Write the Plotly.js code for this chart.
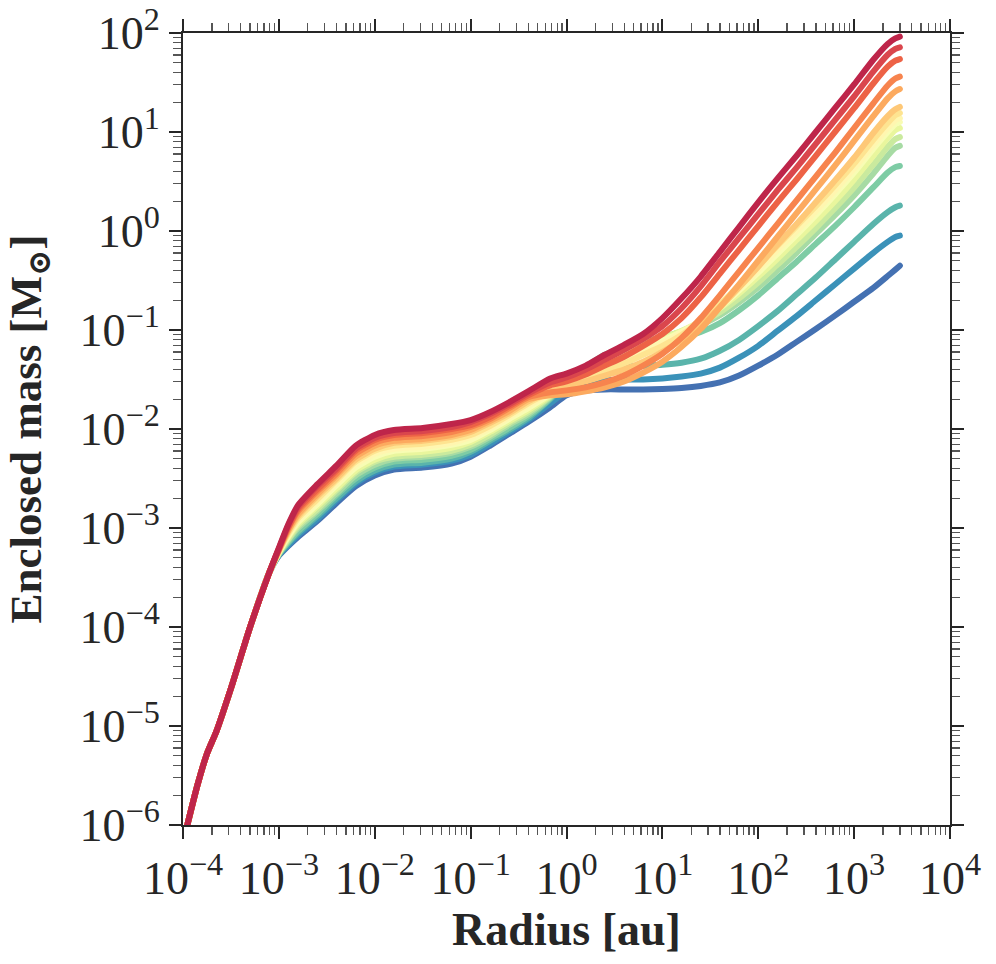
<!DOCTYPE html>
<html><head><meta charset="utf-8">
<script src="https://cdn.plot.ly/plotly-3.0.1.min.js"></script>
<style>
html,body{margin:0;padding:0;background:#fff;}
#chart{width:996px;height:964px;}
.js-line{stroke-linecap:round;stroke-linejoin:round;}
</style></head><body><div id="chart"></div>
<script>
// log10(radius / au): shared core part, then the grid of the 16 profiles
const logRadiusCore = [-3.96, -3.85, -3.75, -3.65, -3.5, -3.3, -3.1];
const logMassCore   = [-6.02, -5.60, -5.28, -5.05, -4.62, -4.00, -3.45];
const logRadius = [-3.0,-2.9,-2.8,-2.6,-2.4,-2.2,-2.0,-1.8,-1.5,-1.2,-1.0,-0.8,-0.6,-0.4,
  -0.17,0.0,0.2,0.4,0.6,0.8,1.0,1.2,1.4,1.6,1.8,2.0,2.2,2.4,2.6,2.8,3.0,3.2,3.35,3.43,3.477];
// log10(enclosed mass / Msun), profile 1 = highest (dark red) ... 16 = lowest (blue)
const logMass01 = [-3.20,-2.96,-2.77,-2.56,-2.37,-2.17,-2.06,-2.01,-1.99,-1.95,-1.91,-1.83,-1.73,-1.62,-1.49,-1.44,-1.36,-1.25,-1.15,-1.04,-0.88,-0.68,-0.46,-0.21,0.04,0.29,0.53,0.76,1.00,1.24,1.48,1.73,1.89,1.945,1.963];
const logMass02 = [-3.21,-2.97,-2.79,-2.58,-2.40,-2.20,-2.09,-2.04,-2.02,-1.98,-1.93,-1.85,-1.75,-1.64,-1.53,-1.48,-1.40,-1.30,-1.20,-1.09,-0.96,-0.78,-0.56,-0.31,-0.07,0.17,0.41,0.64,0.88,1.12,1.36,1.61,1.78,1.84,1.855];
const logMass03 = [-3.21,-2.99,-2.81,-2.61,-2.42,-2.22,-2.11,-2.06,-2.04,-2.00,-1.96,-1.88,-1.77,-1.66,-1.56,-1.52,-1.45,-1.36,-1.27,-1.16,-1.04,-0.88,-0.67,-0.43,-0.19,0.05,0.29,0.52,0.76,1.00,1.24,1.49,1.66,1.72,1.737];
const logMass04 = [-3.22,-3.00,-2.83,-2.63,-2.45,-2.25,-2.14,-2.09,-2.07,-2.03,-1.98,-1.90,-1.79,-1.68,-1.63,-1.61,-1.58,-1.53,-1.46,-1.36,-1.24,-1.08,-0.88,-0.65,-0.41,-0.17,0.07,0.31,0.55,0.79,1.04,1.29,1.47,1.54,1.559];
const logMass05 = [-3.22,-3.02,-2.86,-2.66,-2.47,-2.28,-2.17,-2.12,-2.10,-2.06,-2.01,-1.92,-1.82,-1.70,-1.66,-1.65,-1.62,-1.58,-1.52,-1.43,-1.32,-1.17,-0.99,-0.77,-0.54,-0.30,-0.06,0.18,0.42,0.66,0.91,1.16,1.34,1.41,1.434];
const logMass06 = [-3.23,-3.03,-2.88,-2.68,-2.50,-2.31,-2.20,-2.14,-2.12,-2.08,-2.03,-1.94,-1.84,-1.72,-1.62,-1.57,-1.52,-1.46,-1.40,-1.32,-1.22,-1.10,-0.95,-0.77,-0.57,-0.36,-0.14,0.07,0.29,0.51,0.74,0.99,1.16,1.23,1.253];
const logMass07 = [-3.23,-3.05,-2.90,-2.71,-2.52,-2.33,-2.22,-2.17,-2.15,-2.11,-2.06,-1.97,-1.86,-1.74,-1.63,-1.56,-1.49,-1.42,-1.34,-1.25,-1.16,-1.05,-0.91,-0.74,-0.55,-0.35,-0.15,0.05,0.25,0.46,0.68,0.92,1.09,1.17,1.192];
const logMass08 = [-3.24,-3.06,-2.92,-2.73,-2.55,-2.36,-2.25,-2.20,-2.18,-2.14,-2.08,-1.99,-1.88,-1.76,-1.64,-1.55,-1.47,-1.39,-1.31,-1.22,-1.13,-1.03,-0.91,-0.76,-0.58,-0.39,-0.19,0.00,0.20,0.41,0.63,0.87,1.04,1.12,1.141];
const logMass09 = [-3.24,-3.08,-2.94,-2.76,-2.57,-2.39,-2.28,-2.22,-2.20,-2.16,-2.11,-2.01,-1.90,-1.79,-1.65,-1.54,-1.45,-1.36,-1.28,-1.19,-1.11,-1.02,-0.91,-0.77,-0.60,-0.42,-0.23,-0.04,0.16,0.37,0.59,0.83,1.00,1.08,1.101];
const logMass10 = [-3.25,-3.09,-2.96,-2.78,-2.60,-2.42,-2.31,-2.25,-2.23,-2.19,-2.13,-2.03,-1.92,-1.81,-1.66,-1.53,-1.42,-1.32,-1.24,-1.16,-1.09,-1.01,-0.91,-0.78,-0.63,-0.46,-0.28,-0.09,0.10,0.30,0.52,0.76,0.94,1.02,1.040];
const logMass11 = [-3.25,-3.11,-2.98,-2.81,-2.62,-2.44,-2.33,-2.28,-2.26,-2.22,-2.16,-2.06,-1.94,-1.83,-1.67,-1.52,-1.40,-1.29,-1.21,-1.14,-1.08,-1.01,-0.93,-0.82,-0.68,-0.52,-0.34,-0.16,0.03,0.23,0.44,0.67,0.85,0.93,0.949];
const logMass12 = [-3.26,-3.12,-3.00,-2.83,-2.65,-2.47,-2.36,-2.30,-2.28,-2.24,-2.18,-2.08,-1.96,-1.85,-1.68,-1.51,-1.38,-1.27,-1.19,-1.12,-1.07,-1.02,-0.95,-0.85,-0.72,-0.57,-0.40,-0.22,-0.03,0.16,0.36,0.58,0.76,0.84,0.859];
const logMass13 = [-3.26,-3.14,-3.03,-2.86,-2.67,-2.50,-2.39,-2.33,-2.31,-2.27,-2.21,-2.10,-1.99,-1.87,-1.69,-1.50,-1.37,-1.25,-1.18,-1.13,-1.11,-1.08,-1.02,-0.93,-0.80,-0.65,-0.48,-0.31,-0.13,0.05,0.24,0.44,0.59,0.645,0.657];
const logMass14 = [-3.27,-3.15,-3.05,-2.88,-2.70,-2.53,-2.42,-2.36,-2.34,-2.30,-2.23,-2.12,-2.01,-1.89,-1.70,-1.55,-1.44,-1.39,-1.37,-1.36,-1.35,-1.33,-1.29,-1.21,-1.10,-0.96,-0.81,-0.64,-0.47,-0.29,-0.11,0.07,0.19,0.24,0.256];
const logMass15 = [-3.27,-3.17,-3.07,-2.91,-2.72,-2.55,-2.44,-2.38,-2.36,-2.32,-2.26,-2.15,-2.03,-1.91,-1.74,-1.62,-1.54,-1.51,-1.50,-1.50,-1.49,-1.47,-1.44,-1.38,-1.28,-1.16,-1.01,-0.86,-0.70,-0.54,-0.38,-0.22,-0.11,-0.06,-0.047];
const logMass16 = [-3.28,-3.18,-3.09,-2.93,-2.75,-2.58,-2.47,-2.41,-2.39,-2.35,-2.28,-2.17,-2.05,-1.93,-1.78,-1.66,-1.61,-1.60,-1.60,-1.60,-1.595,-1.585,-1.565,-1.53,-1.46,-1.36,-1.25,-1.12,-0.99,-0.855,-0.715,-0.575,-0.455,-0.39,-0.351];
const profiles = [logMass01,logMass02,logMass03,logMass04,logMass05,logMass06,logMass07,logMass08,
  logMass09,logMass10,logMass11,logMass12,logMass13,logMass14,logMass15,logMass16];

const xTickVals = [1e-4,1e-3,1e-2,1e-1,1e0,1e1,1e2,1e3,1e4];
const xTickText = ['10<sup>−4</sup>','10<sup>−3</sup>','10<sup>−2</sup>','10<sup>−1</sup>','10<sup>0</sup>','10<sup>1</sup>','10<sup>2</sup>','10<sup>3</sup>','10<sup>4</sup>'];
const yTickVals = [1e-6,1e-5,1e-4,1e-3,1e-2,1e-1,1e0,1e1,1e2];
const yTickText = ['10<sup>−6</sup>','10<sup>−5</sup>','10<sup>−4</sup>','10<sup>−3</sup>','10<sup>−2</sup>','10<sup>−1</sup>','10<sup>0</sup>','10<sup>1</sup>','10<sup>2</sup>'];

// matplotlib "Spectral" colormap
const spectral = [[158,1,66],[213,62,79],[244,109,67],[253,174,97],[254,224,139],[255,255,191],
  [230,245,152],[171,221,164],[102,194,165],[50,136,189],[94,79,162]];
function cmap(t){
  const s=t*10, i=Math.min(9,Math.floor(s)), f=s-i;
  const c=spectral[i].map((v,j)=>Math.round(v+(spectral[i+1][j]-v)*f));
  return 'rgb('+c.join(',')+')';
}
function minorTicks(a,b){const out=[];for(let n=a;n<b;n++){for(let m=2;m<=9;m++)out.push(m*Math.pow(10,n));}return out;}

const pw = v => Math.pow(10, v);
const traces = [];
for (let k = profiles.length-1; k >= 0; k--) {
  const lr = logRadiusCore.concat(logRadius);
  const lm = logMassCore.concat(profiles[k]);
  traces.push({
    x: lr.map(pw), y: lm.map(pw), mode:'lines', type:'scatter',
    line:{color:cmap((k+1)/(profiles.length+1)), width:6, shape:'spline', smoothing:0.6},
    hoverinfo:'skip', showlegend:false
  });
}

const ink = '#262626';
const serif = 'Liberation Serif, DejaVu Serif, serif';
const tickFont = {family:serif, size:46, color:ink};
const axisCommon = {
  type:'log', showline:true, linecolor:ink, linewidth:2, mirror:'allticks',
  ticks:'outside', ticklen:12, tickwidth:2, tickcolor:ink, tickmode:'array',
  showgrid:false, zeroline:false, tickfont:tickFont
};
const layout = {
  width:996, height:964, paper_bgcolor:'#fff', plot_bgcolor:'#fff',
  margin:{l:183, r:46, t:33, b:139},
  showlegend:false,
  xaxis: Object.assign({}, axisCommon, {
    range:[-4,4], tickvals:xTickVals, ticktext:xTickText,
    minor:{ticks:'outside', ticklen:8, tickwidth:1.3, tickcolor:'#555', tickmode:'array', tickvals:minorTicks(-4,4), showgrid:false},
    title:{text:'<b>Radius [au]</b>', font:{family:serif, size:46, color:ink}, standoff:2}
  }),
  yaxis: Object.assign({}, axisCommon, {
    range:[-6,2], tickvals:yTickVals, ticktext:yTickText,
    minor:{ticks:'outside', ticklen:8, tickwidth:1.3, tickcolor:'#555', tickmode:'array', tickvals:minorTicks(-6,2), showgrid:false},
    title:{text:'<b>Enclosed mass [M<sub>⊙</sub>]</b>\u00a0\u00a0', font:{family:serif, size:45, color:ink}, standoff:24}
  })
};
Plotly.newPlot('chart', traces, layout, {displayModeBar:false, staticPlot:true});
</script></body></html>
